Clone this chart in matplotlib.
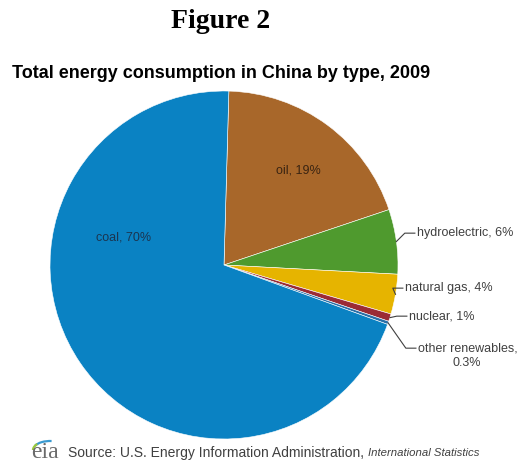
import numpy as np
import matplotlib
matplotlib.use("Agg")
import matplotlib.pyplot as plt
from matplotlib.patches import Arc

categories = ["coal", "oil", "hydroelectric", "natural gas", "nuclear", "other renewables"]
values = [69.9, 19.4, 6.0, 3.7, 0.7, 0.3]
labels = ["coal, 70%", "oil, 19%", "hydroelectric, 6%", "natural gas, 4%", "nuclear, 1%", "other renewables,\n0.3%"]
colors = ["#0A82C3", "#A8672A", "#4F9A2E", "#E6B400", "#9B2B35", "#2A6FA8"]

W, H = 522, 463
fig = plt.figure(figsize=(W / 100, H / 100), dpi=100)
fig.patch.set_facecolor("white")

cx, cy, r = 224, 265, 174
ax = fig.add_axes([(cx - r) / W, (H - cy - r) / H, 2 * r / W, 2 * r / H])
order = [1, 2, 3, 4, 5, 0]  # clockwise from top starting with oil
vals = [values[i] for i in order]
cols = [colors[i] for i in order]
wedges, _ = ax.pie(vals, colors=cols, startangle=88.4, counterclock=False, radius=1,
                   wedgeprops=dict(edgecolor="white", linewidth=0.4))
ax.set_xlim(-1, 1)
ax.set_ylim(-1, 1)
ax.set_aspect("equal")
ax.axis("off")

lab_font = "Liberation Sans"
fs = 9
ax.text(-0.58, 0.16, labels[0], ha="center", va="center", fontsize=fs, family=lab_font, color="#1B3550")
ax.text(0.425, 0.545, labels[1], ha="center", va="center", fontsize=fs, family=lab_font, color="#3A2412")

outside = {2: (1.109, 0.183), 3: (1.04, -0.133), 4: (1.063, -0.294), 5: (1.115, -0.478)}
for k, i in enumerate(order):
    if i not in outside:
        continue
    w = wedges[k]
    mid = np.deg2rad((w.theta1 + w.theta2) / 2)
    px, py = np.cos(mid), np.sin(mid)
    tx, ty = outside[i]
    ax.plot([px, tx - 0.07, tx - 0.012], [py, ty, ty], color="#404040", lw=0.8, clip_on=False)
    if i == 5:
        ax.text(tx, ty, "other renewables,", ha="left", va="center", fontsize=fs, family=lab_font, color="#404040")
        ax.text(tx + 0.282, ty - 0.088, "0.3%", ha="center", va="center", fontsize=fs, family=lab_font, color="#404040")
    else:
        ax.text(tx, ty, labels[i], ha="left", va="center", fontsize=fs, family=lab_font, color="#404040")

fig.text(221 / W, 1 - 21 / H, "Figure 2", ha="center", va="center", fontsize=20, fontweight="bold",
         family="Liberation Serif", color="black")
fig.text(12 / W, 1 - 73 / H, "Total energy consumption in China by type, 2009", ha="left", va="center",
         fontsize=13, fontweight="bold", family="Liberation Sans", color="black")

# footer
fig.text(31 / W, 1 - 453 / H, "eia", ha="left", va="center", fontsize=17, family="Liberation Serif", color="#6A6A6A")
fax = fig.add_axes([0, 0, 1, 1], facecolor="none")
fax.set_xlim(0, W)
fax.set_ylim(H, 0)
fax.axis("off")
fax.add_patch(Arc((50, 450), 34, 18, theta1=195, theta2=280, color="#3A9AD0", lw=1.6))
fax.add_patch(Arc((50, 450), 34, 18, theta1=180, theta2=205, color="#9BC83A", lw=1.6))
t1 = fig.text(68 / W, 1 - 453 / H, "Source: U.S. Energy Information Administration, ", ha="left", va="center",
              fontsize=10, family="Liberation Sans", color="#404040")
fig.canvas.draw()
bb = t1.get_window_extent()
fig.text(bb.x1 / W, 1 - 453 / H, "International Statistics", ha="left", va="center",
         fontsize=8.2, family="Liberation Sans", style="italic", color="#404040")
fig.savefig("out.png", dpi=100)
